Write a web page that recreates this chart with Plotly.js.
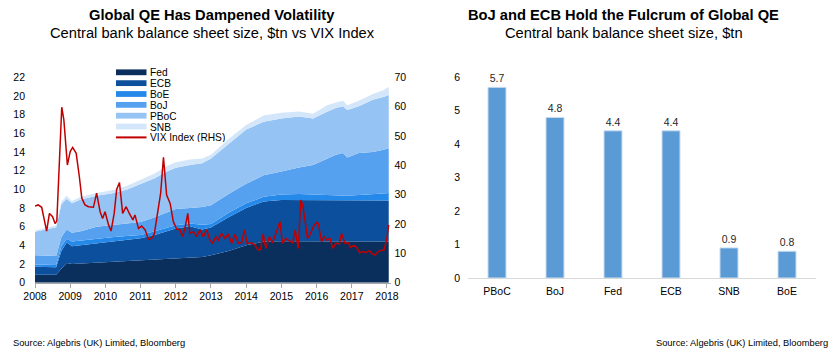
<!DOCTYPE html>
<html><head><meta charset="utf-8">
<script src="https://cdn.plot.ly/plotly-3.0.1.min.js"></script>
<style>html,body{margin:0;padding:0;background:#fff;} #chart{width:836px;height:355px;}</style>
</head><body><div id="chart"></div>
<script>
// Balance sheet sizes ($tn) by central bank (stacked)
const bsDates = [2008.0, 2008.6, 2008.75, 2008.9, 2009.05, 2009.3, 2009.75, 2010.25, 2010.6, 2011.0,
                 2011.4, 2011.75, 2012.0, 2012.4, 2012.75, 2013.0, 2013.5, 2014.0, 2014.5, 2015.0,
                 2015.5, 2015.9, 2016.3, 2016.55, 2016.75, 2016.87, 2017.2, 2017.6, 2017.9, 2018.05];
const fed  = [0.85,0.85,1.50,2.10,2.00,2.05,2.15,2.25,2.30,2.40,2.50,2.60,2.65,2.70,2.75,2.95,3.40,4.00,4.40,4.45,4.45,4.45,4.40,4.40,4.40,4.40,4.40,4.40,4.40,4.40];
const ecb  = [0.85,0.80,1.90,2.20,1.90,1.95,2.05,2.20,2.30,2.35,2.60,2.95,3.15,3.35,2.95,2.95,3.60,4.00,4.30,4.40,4.40,4.35,4.40,4.40,4.40,4.40,4.40,4.40,4.40,4.40];
const boe  = [0.25,0.25,0.50,0.40,0.50,0.50,0.55,0.45,0.40,0.35,0.40,0.35,0.35,0.30,0.50,0.40,0.50,0.50,0.50,0.60,0.65,0.65,0.60,0.55,0.55,0.50,0.60,0.65,0.75,0.80];
const boj  = [1.00,0.95,1.00,1.00,0.95,1.00,1.25,1.30,1.35,1.40,1.50,1.60,1.75,1.65,1.90,2.00,2.00,2.10,2.30,2.45,2.85,3.15,3.90,4.35,4.55,4.10,4.50,4.55,4.70,4.80];
const pboc = [2.50,3.10,3.50,3.30,3.15,3.40,3.30,3.40,3.60,4.10,4.20,4.40,4.40,4.60,4.70,5.00,5.40,5.80,5.75,5.70,5.45,5.00,5.00,5.00,5.00,5.10,5.00,5.60,5.65,5.70];
const snb  = [0.15,0.20,0.30,0.30,0.25,0.30,0.30,0.35,0.40,0.40,0.50,0.60,0.60,0.60,0.50,0.40,0.50,0.50,0.65,0.60,0.55,0.50,0.70,0.60,0.60,0.50,0.60,0.60,0.70,0.90];

// VIX Index (RHS)
const vixDates = [2008.00,2008.09,2008.19,2008.28,2008.33,2008.41,2008.50,2008.57,2008.62,2008.76,2008.82,2008.92,
  2009.00,2009.07,2009.17,2009.26,2009.33,2009.42,2009.52,2009.66,2009.75,2009.85,2009.92,2009.99,
  2010.09,2010.16,2010.25,2010.32,2010.40,2010.49,2010.59,2010.68,2010.78,2010.84,2010.94,
  2011.03,2011.13,2011.22,2011.31,2011.39,2011.48,2011.57,2011.65,2011.74,2011.84,2011.93,
  2012.03,2012.12,2012.19,2012.26,2012.34,2012.40,2012.50,2012.59,2012.69,2012.78,2012.88,2012.97,
  2013.05,2013.14,2013.21,2013.30,2013.40,2013.49,2013.59,2013.68,2013.78,2013.87,2013.95,
  2014.03,2014.15,2014.25,2014.34,2014.41,2014.48,2014.56,2014.66,2014.75,2014.84,2014.96,
  2015.03,2015.13,2015.22,2015.32,2015.39,2015.48,2015.55,2015.60,2015.67,2015.74,2015.81,2015.91,
  2016.00,2016.05,2016.14,2016.21,2016.29,2016.38,2016.46,2016.55,2016.65,2016.71,2016.81,2016.90,2016.97,
  2017.06,2017.14,2017.23,2017.33,2017.40,2017.50,2017.57,2017.66,2017.75,2017.85,2017.91,2017.99,2018.05];
const vix = [26.1,26.5,25.7,20.8,17.6,23.6,22.5,20.2,21.0,59.8,55.5,40.1,
  44.7,46.1,44.1,36.1,28.8,26.5,25.9,25.7,30.5,24.2,21.9,24.2,
  19.7,17.6,23.6,31.8,34.1,23.6,25.9,23.6,21.4,23.1,18.5,
  19.3,18.0,14.8,15.1,16.6,23.6,30.5,42.7,29.9,27.0,20.8,
  18.2,18.0,15.7,18.5,23.6,16.8,17.4,15.7,18.0,15.7,18.0,14.5,
  13.5,15.7,14.5,16.8,15.1,16.6,13.4,16.5,13.4,13.6,18.0,
  13.4,13.6,12.8,11.1,11.4,16.6,11.7,15.7,13.6,16.8,20.8,
  13.4,15.1,14.3,13.6,18.0,11.7,28.2,26.5,21.4,15.1,16.3,19.1,
  20.5,20.2,14.0,15.7,14.5,15.1,11.7,13.4,13.2,16.8,13.4,13.6,12.0,
  12.8,12.0,10.2,10.6,10.2,10.9,10.0,9.4,10.6,11.1,11.1,14.5,19.7];

// Right chart: current balance sheet size ($tn)
const bankNames = ['PBoC','BoJ','Fed','ECB','SNB','BoE'];
const bankSizes = [5.7, 4.8, 4.4, 4.4, 0.9, 0.8];

const seriesNames = ['Fed','ECB','BoE','BoJ','PBoC','SNB'];
const seriesValues = [fed, ecb, boe, boj, pboc, snb];
const seriesColors = ['#0B2F5C','#0C4F9D','#2589EA','#55A1F0','#94C3F4','#D4E6FA'];
const vixName = 'VIX Index (RHS)';
const vixColor = '#C00000';
const barColor = '#5B9BD5';

const W = 836, H = 355;
const px = x => x / W;
const py = y => 1 - y / H;
const FONT = 'Liberation Sans, Arial, sans-serif';

const traces = [];
seriesNames.forEach((n, i) => {
  traces.push({
    type: 'scatter', mode: 'lines', name: n, x: bsDates, y: seriesValues[i],
    stackgroup: 'cb', fillcolor: seriesColors[i], line: {width: 0, color: seriesColors[i]},
    xaxis: 'x', yaxis: 'y', showlegend: false, hoverinfo: 'skip'
  });
});
traces.push({
  type: 'scatter', mode: 'lines', name: vixName, x: vixDates, y: vix,
  line: {color: vixColor, width: 1.5}, xaxis: 'x', yaxis: 'y2', showlegend: false
});
traces.push({
  type: 'bar', x: bankNames, y: bankSizes, xaxis: 'x2', yaxis: 'y3',
  marker: {color: barColor, line: {color: '#C9DCF0', width: 1}},
  text: bankSizes.map(v => v.toFixed(1)), textposition: 'outside', cliponaxis: false,
  textfont: {size: 10.5, color: '#262626', family: FONT}, showlegend: false
});

const annotations = [];
const shapes = [];
function txt(t, x, y, size, anchor, extra) {
  annotations.push(Object.assign({text: t, x: px(x), y: py(y), xref: 'paper', yref: 'paper',
    xanchor: anchor, yanchor: 'middle', showarrow: false, borderpad: 0,
    font: {family: FONT, size: size, color: '#000'}}, extra || {}));
}
txt('<b>Global QE Has Dampened Volatility</b>', 212, 15, 14.7, 'center');
txt('Central bank balance sheet size, $tn vs VIX Index', 212, 33.3, 14.7, 'center');
txt('<b>BoJ and ECB Hold the Fulcrum of Global QE</b>', 623.5, 15, 14.7, 'center');
txt('Central bank balance sheet size, $tn', 623.5, 33.3, 14.7, 'center');
txt('Source: Algebris (UK) Limited, Bloomberg', 11.5, 342.5, 9.3, 'left');
txt('Source: Algebris (UK) Limited, Bloomberg', 828.5, 342.5, 9.3, 'right');

// custom legend (compact spacing, as in the reference)
const legTop = 72.3, legStep = 10.85;
seriesNames.forEach((n, i) => {
  const ly = legTop + i * legStep;
  shapes.push({type: 'rect', xref: 'paper', yref: 'paper', x0: px(116), x1: px(146.5),
    y0: py(ly + 2.9), y1: py(ly - 2.9), fillcolor: seriesColors[i], line: {width: 0}});
  txt(n, 148.5, ly, 10.2, 'left', {height: 10, valign: 'middle'});
});
{
  const ly = legTop + 6 * legStep;
  shapes.push({type: 'line', xref: 'paper', yref: 'paper', x0: px(116), x1: px(146.5),
    y0: py(ly), y1: py(ly), line: {color: vixColor, width: 2}});
  txt(vixName, 148.5, ly, 10.2, 'left', {height: 10, valign: 'middle'});
}

const tickFont = {family: FONT, size: 10.5, color: '#000'};
const layout = {
  width: W, height: H, margin: {l: 0, r: 0, t: 0, b: 0},
  paper_bgcolor: '#fff', plot_bgcolor: 'rgba(0,0,0,0)',
  font: {family: FONT},
  xaxis: {domain: [px(35), px(390.5)], range: [2008, 2018.1], anchor: 'y',
    tickvals: [2008,2009,2010,2011,2012,2013,2014,2015,2016,2017,2018],
    ticktext: ['2008','2009','2010','2011','2012','2013','2014','2015','2016','2017','2018'],
    ticks: 'outside', ticklen: 4, tickcolor: '#A6A6A6', showline: true, linecolor: '#A6A6A6',
    showgrid: false, zeroline: false, tickfont: tickFont},
  yaxis: {domain: [py(282.7), py(77.3)], range: [0, 22], dtick: 2, anchor: 'x',
    showgrid: false, zeroline: false, ticks: '', tickfont: tickFont, ticklabelstandoff: 9},
  yaxis2: {overlaying: 'y', side: 'right', anchor: 'x', range: [0, 70], dtick: 10,
    showgrid: false, zeroline: false, ticks: '', tickfont: tickFont, ticklabelstandoff: 3},
  xaxis2: {domain: [px(468), px(816)], anchor: 'y3', type: 'category',
    showline: true, linecolor: '#D9D9D9', ticks: '', showgrid: false, zeroline: false,
    tickfont: tickFont, ticklabelstandoff: 3},
  yaxis3: {domain: [py(278), py(77.3)], range: [0, 6], dtick: 1, anchor: 'x2',
    showgrid: false, zeroline: false, ticks: '', tickfont: tickFont, ticklabelstandoff: 7},
  bargap: 0.69,
  annotations: annotations, shapes: shapes, showlegend: false
};
Plotly.newPlot('chart', traces, layout, {displayModeBar: false, staticPlot: true});
</script></body></html>
